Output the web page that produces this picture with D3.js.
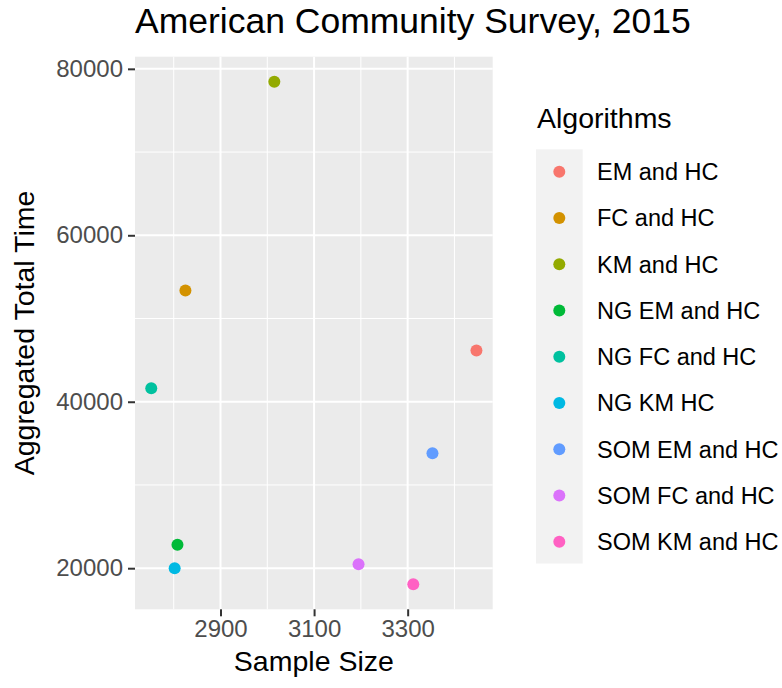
<!DOCTYPE html>
<html>
<head>
<meta charset="utf-8">
<script src="https://cdn.jsdelivr.net/npm/d3@7"></script>
<style>
  html, body { margin: 0; padding: 0; background: #ffffff; }
  svg { display: block; font-family: "Liberation Sans", Arial, sans-serif; }
</style>
</head>
<body>
<svg id="chart" width="782" height="688"></svg>
<script>
// ---- data ----
const algorithms = ["EM and HC", "FC and HC", "KM and HC", "NG EM and HC", "NG FC and HC",
                    "NG KM HC", "SOM EM and HC", "SOM FC and HC", "SOM KM and HC"];
const sampleSize = [3447, 2825, 3015, 2808, 2752, 2802, 3353, 3195, 3312];
const totalTime  = [46160, 53370, 78440, 22830, 41610, 20000, 33820, 20480, 18080];
const colors = ["#F8766D", "#D39200", "#93AA00", "#00BA38", "#00C19F",
                "#00B9E3", "#619CFF", "#DB72FB", "#FF61C3"];
const xMajorTicks = [2900, 3100, 3300];
const xMinorTicks = [2800, 3000, 3200, 3400];
const yMajorTicks = [20000, 40000, 60000, 80000];
const yMinorTicks = [30000, 50000, 70000];
const titleText = "American Community Survey, 2015";
const xTitle = "Sample Size";
const yTitle = "Aggregated Total Time";
const legendTitle = "Algorithms";

// ---- layout ----
const svg = d3.select("#chart");
const panel = { left: 135, right: 492.7, top: 56.7, bottom: 609.3 };

const xExt = d3.extent(sampleSize), yExt = d3.extent(totalTime);
const xPad = (xExt[1] - xExt[0]) * 0.05, yPad = (yExt[1] - yExt[0]) * 0.05;
const x = d3.scaleLinear().domain([xExt[0] - xPad, xExt[1] + xPad]).range([panel.left, panel.right]);
const y = d3.scaleLinear().domain([yExt[0] - yPad, yExt[1] + yPad]).range([panel.bottom, panel.top]);

// panel background
svg.append("rect")
  .attr("x", panel.left).attr("y", panel.top)
  .attr("width", panel.right - panel.left).attr("height", panel.bottom - panel.top)
  .attr("fill", "#EBEBEB");

const grid = svg.append("g");
// minor grid
grid.selectAll(".xminor").data(xMinorTicks).join("line")
  .attr("x1", d => x(d)).attr("x2", d => x(d))
  .attr("y1", panel.top).attr("y2", panel.bottom)
  .attr("stroke", "#fff").attr("stroke-width", 1);
grid.selectAll(".yminor").data(yMinorTicks).join("line")
  .attr("y1", d => y(d)).attr("y2", d => y(d))
  .attr("x1", panel.left).attr("x2", panel.right)
  .attr("stroke", "#fff").attr("stroke-width", 1);
// major grid
grid.selectAll(".xmajor").data(xMajorTicks).join("line")
  .attr("x1", d => x(d)).attr("x2", d => x(d))
  .attr("y1", panel.top).attr("y2", panel.bottom)
  .attr("stroke", "#fff").attr("stroke-width", 2);
grid.selectAll(".ymajor").data(yMajorTicks).join("line")
  .attr("y1", d => y(d)).attr("y2", d => y(d))
  .attr("x1", panel.left).attr("x2", panel.right)
  .attr("stroke", "#fff").attr("stroke-width", 2);

// axes
const xAxis = d3.axisBottom(x).tickValues(xMajorTicks).tickSize(7).tickPadding(4).tickFormat(d3.format("d"));
const yAxis = d3.axisLeft(y).tickValues(yMajorTicks).tickSize(7).tickPadding(5).tickFormat(d3.format("d"));

const gx = svg.append("g").attr("transform", `translate(0,${panel.bottom})`).call(xAxis);
const gy = svg.append("g").attr("transform", `translate(${panel.left},0)`).call(yAxis);
[gx, gy].forEach(g => {
  g.select(".domain").remove();
  g.selectAll(".tick line").attr("stroke", "#333333").attr("stroke-width", 2);
  g.selectAll(".tick text").attr("fill", "#4D4D4D")
    .style("font-size", "24px").style("font-family", "Liberation Sans, Arial, sans-serif");
});

// points
svg.append("g").selectAll("circle")
  .data(algorithms.map((a, i) => ({ a, sx: sampleSize[i], ty: totalTime[i], c: colors[i] })))
  .join("circle")
  .attr("cx", d => x(d.sx)).attr("cy", d => y(d.ty))
  .attr("r", 6).attr("fill", d => d.c);

// titles
svg.append("text").attr("x", panel.left).attr("y", 33)
  .attr("font-size", 35.5).attr("fill", "#000").text(titleText);
svg.append("text").attr("x", (panel.left + panel.right) / 2).attr("y", 671)
  .attr("text-anchor", "middle").attr("font-size", 28.5).attr("fill", "#000").text(xTitle);
svg.append("text")
  .attr("transform", `translate(33.5,${(panel.top + panel.bottom) / 2}) rotate(-90)`)
  .attr("text-anchor", "middle").attr("font-size", 28.5).attr("fill", "#000").text(yTitle);

// legend
const leg = svg.append("g");
leg.append("text").attr("x", 537).attr("y", 128).attr("font-size", 28.5).attr("fill", "#000").text(legendTitle);
const keyStep = 46.25, keyTop = 149.3;
leg.append("rect").attr("x", 536).attr("y", keyTop)
  .attr("width", 46.7).attr("height", keyStep * algorithms.length - 2)
  .attr("fill", "#F2F2F2");
const items = leg.selectAll(".item").data(algorithms).join("g")
  .attr("transform", (d, i) => `translate(0,${171.7 + i * keyStep})`);
items.append("circle").attr("cx", 559.3).attr("cy", 0).attr("r", 6).attr("fill", (d, i) => colors[i]);
items.append("text").attr("x", 597).attr("y", 0).attr("dy", "0.36em")
  .attr("font-size", 23.5).attr("fill", "#000").text(d => d);
</script>
</body>
</html>
